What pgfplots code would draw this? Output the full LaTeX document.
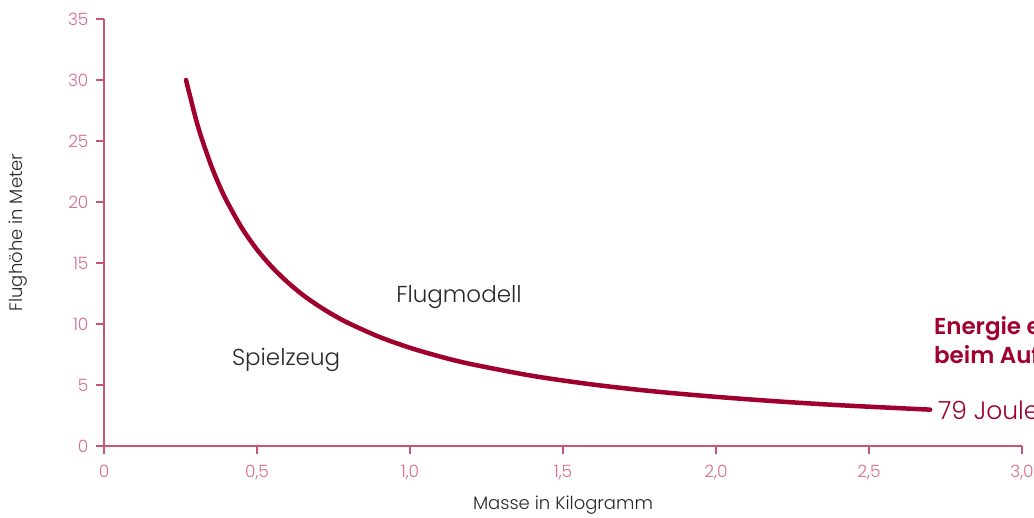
\documentclass[border=0pt]{standalone}
\usepackage{fontspec}
\setmainfont{Poppins Light}[BoldFont={Poppins SemiBold}]
\usepackage{pgfplots}
\pgfplotsset{compat=1.18}
\definecolor{axispink}{RGB}{200,85,115}
\definecolor{ticklab}{RGB}{214,110,140}
\definecolor{curve}{RGB}{160,0,45}
\definecolor{txt}{RGB}{40,40,40}
\begin{document}
\begin{tikzpicture}[x=1pt,y=1pt]
\path[use as bounding box] (0,0) rectangle (1034,517);
\clip (0,0) rectangle (1034,517);
\begin{axis}[
  at={(104pt,71pt)}, anchor=origin,
  scale only axis, width=918pt, height=427pt,
  xmin=0, xmax=3, ymin=0, ymax=35,
  axis lines=left,
  axis line style={-, draw=axispink, line width=1.2pt},
  xtick={0,0.5,1,1.5,2,2.5,3},
  xticklabels={0,{0,5},{1,0},{1,5},{2,0},{2,5},{3,0}},
  ytick={0,5,10,15,20,25,30,35},
  tick style={draw=axispink, line width=1.2pt},
  tick align=outside,
  major tick length=8pt,
  ticklabel style={font=\fontsize{17}{20}\selectfont, text=ticklab},
  /pgf/number format/assume math mode=true,
  xticklabel style={yshift=-8pt},
  yticklabel style={xshift=-4pt},
  xlabel={Masse in Kilogramm},
  ylabel={Flughöhe in Meter},
  label style={font=\fontsize{18}{20}\selectfont, text=txt},
  xlabel style={at={(axis description cs:0.5,0)}, anchor=center, yshift=-59pt},
  ylabel style={at={(axis description cs:0,0.5)}, anchor=center, yshift=86pt},
  clip=false,
]
\addplot[curve, line width=4.5pt, line cap=round, smooth] coordinates {
(0.268,30.0) (0.30,26.83) (0.32,25.16) (0.35,23.00) (0.375,21.47) (0.40,20.13) (0.45,17.89)
(0.50,16.10) (0.55,14.64) (0.60,13.42) (0.65,12.38) (0.70,11.50) (0.75,10.73) (0.80,10.06)
(0.90,8.94) (1.00,8.05) (1.10,7.32) (1.20,6.71) (1.40,5.75) (1.60,5.03) (1.80,4.47)
(2.00,4.03) (2.20,3.66) (2.40,3.35) (2.60,3.10) (2.70,2.98)
};
\node[font=\fontsize{23}{26}\selectfont, text=txt] at (axis cs:1.16,12.2) {Flugmodell};
\node[font=\fontsize{23}{26}\selectfont, text=txt] at (axis cs:0.595,7.05) {Spielzeug};
\node[font=\fontsize{25}{27}\selectfont, text=curve, anchor=west, inner sep=0pt] at (axis cs:2.725,2.95) {79 Joule};
\node[font=\bfseries\fontsize{23}{29}\selectfont, text=curve, anchor=north west, align=left, inner sep=0pt] at (axis cs:2.712,10.6) {Energie erforderlich\\beim Aufstieg};
\end{axis}
\end{tikzpicture}
\end{document}
